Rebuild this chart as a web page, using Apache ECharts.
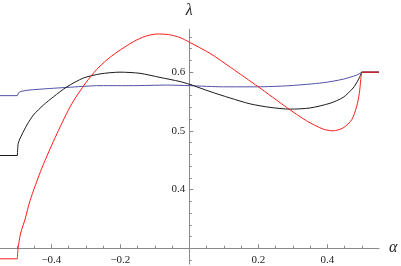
<!DOCTYPE html>
<html><head><meta charset="utf-8">
<script src="https://cdn.jsdelivr.net/npm/echarts@6/dist/echarts.min.js"></script>
<style>html,body{margin:0;padding:0;background:#fff}#c{width:401px;height:266px}</style>
</head><body><div id="c"></div>
<script>
// tick values
const xMajorTicks = [-0.4, -0.2, 0.2, 0.4];
const xMinorTicks = [-0.55, -0.5, -0.45, -0.35, -0.3, -0.25, -0.15, -0.1, -0.05, 0.05, 0.1, 0.15, 0.25, 0.3, 0.35, 0.45, 0.5];
const yMajorTicks = [0.4, 0.5, 0.6];
const yMinorTicks = [0.28, 0.32, 0.34, 0.36, 0.38, 0.42, 0.44, 0.46, 0.48, 0.52, 0.54, 0.56, 0.58, 0.62, 0.64, 0.66];

// curves: [alpha, lambda]
const blueLeft = [[-0.549, 0.560], [-0.4986, 0.560]];
const blueMain = [[-0.4986, 0.560], [-0.493, 0.566], [-0.471, 0.569], [-0.433, 0.571], [-0.355, 0.574], [-0.259, 0.577], [-0.162, 0.577], [-0.066, 0.578], [0.0, 0.577], [0.099, 0.575], [0.195, 0.575], [0.292, 0.577], [0.388, 0.582], [0.446, 0.588], [0.485, 0.595], [0.5, 0.6]];
const blueRight = [[0.5, 0.6], [0.55, 0.6]];

const blackLeft = [[-0.549, 0.458], [-0.4986, 0.458]];
const blackMain = [[-0.4986, 0.458], [-0.496, 0.479], [-0.486, 0.493], [-0.471, 0.510], [-0.452, 0.527], [-0.423, 0.544], [-0.394, 0.558], [-0.355, 0.575], [-0.307, 0.590], [-0.259, 0.597], [-0.201, 0.600], [-0.143, 0.598], [-0.085, 0.591], [-0.027, 0.584], [0.002, 0.579], [0.060, 0.567], [0.118, 0.556], [0.176, 0.546], [0.234, 0.540], [0.292, 0.537], [0.350, 0.539], [0.408, 0.547], [0.446, 0.557], [0.475, 0.573], [0.490, 0.587], [0.5, 0.6]];
const blackRight = [[0.5, 0.6], [0.55, 0.6]];

const redLeft = [[-0.549, 0.282], [-0.4986, 0.282]];
const redMain = [[-0.4986, 0.282], [-0.497, 0.298], [-0.494, 0.310], [-0.489, 0.326], [-0.476, 0.350], [-0.462, 0.381], [-0.428, 0.436], [-0.384, 0.495], [-0.341, 0.546], [-0.300, 0.582], [-0.268, 0.605], [-0.239, 0.621], [-0.210, 0.634], [-0.162, 0.652], [-0.128, 0.661], [-0.094, 0.665], [-0.060, 0.664], [-0.027, 0.659], [0.0, 0.651], [0.060, 0.632], [0.120, 0.608], [0.2, 0.575], [0.282, 0.540], [0.340, 0.517], [0.388, 0.503], [0.417, 0.500], [0.446, 0.505], [0.471, 0.519], [0.485, 0.541], [0.493, 0.564], [0.497, 0.587], [0.5, 0.6]];
const redRight = [[0.5, 0.6], [0.55, 0.6]];

const X_MIN = -0.549, X_MAX = 0.55, Y_MIN = 0.273, Y_MAX = 0.673, X_AXIS_AT = 0.3;
const PLOT_LEFT = 0, PLOT_W = 379, PLOT_TOP = 29.3, PLOT_H = 234.8;
const ZERO_X = PLOT_LEFT + (0 - X_MIN) / (X_MAX - X_MIN) * PLOT_W;
const AXIS_H = (Y_MAX - X_AXIS_AT) / (Y_MAX - Y_MIN) * PLOT_H;

const AX = '#8a8a8a';
const font = { fontFamily: '"Liberation Serif", serif', fontSize: 11, color: '#222' };
const fmt = v => (+v).toFixed(1).replace('-', '\u2212');

const chart = echarts.init(document.getElementById('c'), null, { renderer: 'canvas' });
function line(data, color, smooth, z) {
  return { type: 'line', xAxisIndex: 0, yAxisIndex: 0, data, showSymbol: false, symbol: 'none',
    smooth: smooth ? 0.25 : false, lineStyle: { color, width: 1 }, z, animation: false, silent: true };
}
chart.setOption({
  animation: false,
  grid: [
    { left: PLOT_LEFT, top: PLOT_TOP, width: PLOT_W, height: PLOT_H },
    { left: PLOT_LEFT, top: PLOT_TOP, width: PLOT_W, height: AXIS_H },
    { left: ZERO_X, top: PLOT_TOP, width: 100, height: PLOT_H }
  ],
  xAxis: [
    { gridIndex: 0, type: 'value', min: X_MIN, max: X_MAX, show: false },
    { gridIndex: 1, type: 'value', min: X_MIN, max: X_MAX, position: 'bottom',
      axisLine: { onZero: false, lineStyle: { color: AX, width: 1 } },
      axisTick: { inside: true, length: 4, lineStyle: { color: AX }, customValues: xMajorTicks },
      axisLabel: { ...font, margin: 6, formatter: fmt, customValues: xMajorTicks },
      splitLine: { show: false },
      name: 'α', nameLocation: 'end', nameGap: 10,
      nameTextStyle: { fontFamily: '"Liberation Serif", serif', fontStyle: 'italic', fontSize: 16, color: '#222', verticalAlign: 'middle' } },
    { gridIndex: 1, type: 'value', min: X_MIN, max: X_MAX, position: 'bottom',
      axisLine: { show: false, onZero: false },
      axisTick: { inside: true, length: 2.5, lineStyle: { color: AX }, customValues: xMinorTicks },
      axisLabel: { show: false }, splitLine: { show: false } },
    { gridIndex: 2, type: 'value', min: 0, max: 1, show: false }
  ],
  yAxis: [
    { gridIndex: 0, type: 'value', min: Y_MIN, max: Y_MAX, show: false },
    { gridIndex: 1, type: 'value', min: X_AXIS_AT, max: Y_MAX, show: false },
    { gridIndex: 2, type: 'value', min: Y_MIN, max: Y_MAX, position: 'left',
      axisLine: { show: true, onZero: false, lineStyle: { color: AX, width: 1 } },
      axisTick: { show: true, inside: true, length: 4, lineStyle: { color: AX }, customValues: yMajorTicks },
      axisLabel: { ...font, margin: 4, formatter: fmt, customValues: yMajorTicks },
      splitLine: { show: false },
      name: 'λ', nameLocation: 'end', nameGap: 11,
      nameTextStyle: { fontFamily: '"Liberation Serif", serif', fontStyle: 'italic', fontSize: 16, color: '#222', align: 'center' } },
    { gridIndex: 2, type: 'value', min: Y_MIN, max: Y_MAX, position: 'left',
      axisLine: { show: false, onZero: false },
      axisTick: { show: true, inside: true, length: 2.5, lineStyle: { color: AX }, customValues: yMinorTicks },
      axisLabel: { show: false }, splitLine: { show: false } }
  ],
  series: [
    line(blueLeft, '#5050a8', false, 2), line(blueMain, '#5050a8', true, 2), line(blueRight, '#5050a8', false, 2),
    line(blackLeft, '#1a1a1a', false, 3), line(blackMain, '#1a1a1a', true, 3), line(blackRight, '#1a1a1a', false, 3),
    line(redLeft, '#ff1a1a', false, 4), line(redMain, '#ff1a1a', true, 4), line(redRight, '#ff1a1a', false, 4)
  ]
});
</script></body></html>
